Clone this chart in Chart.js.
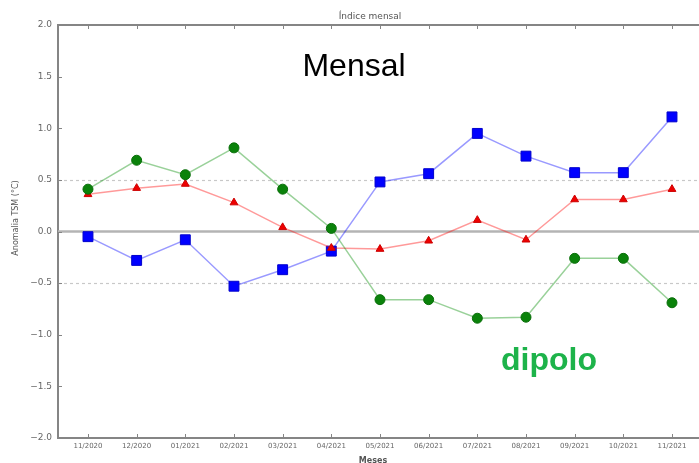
<!DOCTYPE html>
<html>
<head>
<meta charset="utf-8">
<script src="https://cdn.jsdelivr.net/npm/chart.js@4/dist/chart.umd.min.js"></script>
<style>
  html, body { margin: 0; padding: 0; background: #fff; }
  #wrap { width: 699px; height: 463px; }
</style>
</head>
<body>
<div id="wrap"><canvas id="chart"></canvas></div>
<script>
// months on the x axis
let meses = ["11/2020", "12/2020", "01/2021", "02/2021", "03/2021", "04/2021", "05/2021",
             "06/2021", "07/2021", "08/2021", "09/2021", "10/2021", "11/2021"];

// anomaly values (°C)
let serieAzul = [-0.05, -0.28, -0.08, -0.53, -0.37, -0.19, 0.48, 0.56, 0.95, 0.73, 0.57, 0.57, 1.11];
let serieVerde = [0.41, 0.69, 0.55, 0.81, 0.41, 0.03, -0.66, -0.66, -0.84, -0.83, -0.26, -0.26, -0.69];
let serieVermelha = [0.36, 0.42, 0.46, 0.28, 0.04, -0.16, -0.17, -0.09, 0.11, -0.08, 0.31, 0.31, 0.41];

let yTicks = [2.0, 1.5, 1.0, 0.5, 0.0, -0.5, -1.0, -1.5, -2.0];

function pts(arr) {
    return arr.map((v, i) => ({ x: i, y: v }));
}

const spine = "#858585";
const tickFont = "DejaVu Sans";

const extras = {
    id: "extras",
    beforeDatasetsDraw(chart) {
        const ctx = chart.ctx;
        const a = chart.chartArea;
        const y = chart.scales.y;
        ctx.save();
        // dashed reference lines at +-0.5
        ctx.strokeStyle = "#c8c8c8";
        ctx.lineWidth = 1.2;
        ctx.setLineDash([3, 3]);
        [0.5, -0.5].forEach(v => {
            let py = Math.round(y.getPixelForValue(v)) + 0.5;
            ctx.beginPath();
            ctx.moveTo(a.left, py);
            ctx.lineTo(a.right, py);
            ctx.stroke();
        });
        // zero line
        ctx.setLineDash([]);
        ctx.strokeStyle = "#b4b4b4";
        ctx.lineWidth = 2.5;
        let p0 = y.getPixelForValue(0);
        ctx.beginPath();
        ctx.moveTo(a.left, p0);
        ctx.lineTo(a.right, p0);
        ctx.stroke();
        ctx.restore();
    },
    afterDraw(chart) {
        const ctx = chart.ctx;
        const a = chart.chartArea;
        const x = chart.scales.x;
        const y = chart.scales.y;
        ctx.save();
        // top spine
        ctx.strokeStyle = spine;
        ctx.lineWidth = 2;
        ctx.beginPath();
        ctx.moveTo(a.left, a.top);
        ctx.lineTo(a.right, a.top);
        ctx.stroke();
        // inward ticks
        ctx.lineWidth = 1;
        meses.forEach((m, i) => {
            let px = Math.round(x.getPixelForValue(i)) + 0.5;
            ctx.beginPath();
            ctx.moveTo(px, a.bottom);
            ctx.lineTo(px, a.bottom - 4);
            ctx.moveTo(px, a.top);
            ctx.lineTo(px, a.top + 4);
            ctx.stroke();
        });
        yTicks.forEach(v => {
            let py = Math.round(y.getPixelForValue(v)) + 0.5;
            ctx.beginPath();
            ctx.moveTo(a.left, py);
            ctx.lineTo(a.left + 4, py);
            ctx.stroke();
        });
        // small title
        ctx.fillStyle = "#555";
        ctx.font = "9px " + tickFont;
        ctx.textAlign = "center";
        ctx.textBaseline = "alphabetic";
        ctx.fillText("Índice mensal", 370, 19);
        // x axis title
        ctx.font = "bold 8px " + tickFont;
        ctx.fillText("Meses", 373, 463);
        // y axis title
        ctx.font = "8px " + tickFont;
        ctx.translate(16, 218);
        ctx.rotate(-Math.PI / 2);
        ctx.textBaseline = "middle";
        ctx.fillText("Anomalia TSM (°C)", 0, 0);
        ctx.restore();

        // big overlay labels
        ctx.save();
        ctx.textAlign = "center";
        ctx.textBaseline = "middle";
        ctx.fillStyle = "#000";
        ctx.font = "32px 'Liberation Sans'";
        ctx.fillText("Mensal", 354, 67);
        ctx.fillStyle = "#1db34a";
        ctx.font = "bold 32px 'Liberation Sans'";
        ctx.fillText("dipolo", 549, 361);
        ctx.restore();
    }
};

new Chart(document.getElementById("chart"), {
    type: "line",
    data: {
        datasets: [
            {
                label: "verde",
                data: pts(serieVerde),
                borderColor: "rgba(0,140,0,0.4)",
                borderWidth: 1.5,
                pointStyle: "circle",
                pointRadius: 5,
                pointBackgroundColor: "#0a820a",
                pointBorderColor: "#0a6e0a",
                pointBorderWidth: 1
            },
            {
                label: "vermelha",
                data: pts(serieVermelha),
                borderColor: "rgba(255,0,0,0.4)",
                borderWidth: 1.5,
                pointStyle: "triangle",
                pointRadius: 4.5,
                pointBackgroundColor: "#ee0000",
                pointBorderColor: "#cc0000",
                pointBorderWidth: 1
            },
            {
                label: "azul",
                data: pts(serieAzul),
                borderColor: "rgba(0,0,255,0.4)",
                borderWidth: 1.5,
                pointStyle: "rect",
                pointRadius: 7,
                pointBackgroundColor: "#0000ff",
                pointBorderColor: "#0000cc",
                pointBorderWidth: 1
            }
        ]
    },
    options: {
        responsive: true,
        maintainAspectRatio: false,
        animation: false,
        layout: { autoPadding: false, padding: { top: 25, right: 0, left: 0, bottom: 0 } },
        plugins: {
            legend: { display: false },
            tooltip: { enabled: false }
        },
        elements: { line: { tension: 0 } },
        scales: {
            x: {
                type: "linear",
                min: -0.616,
                max: 12.555,
                afterBuildTicks(s) {
                    s.ticks = meses.map((m, i) => ({ value: i }));
                },
                afterFit(s) {
                    s.height = 25;
                    s.paddingLeft = 0;
                    s.paddingRight = 0;
                },
                grid: { display: false, drawTicks: false },
                border: { color: spine, width: 2 },
                ticks: {
                    autoSkip: false,
                    maxRotation: 0,
                    padding: 4,
                    color: "#666",
                    font: { family: tickFont, size: 7 },
                    callback: (v) => meses[v]
                }
            },
            y: {
                min: -2,
                max: 2,
                afterBuildTicks(s) {
                    s.ticks = yTicks.map(v => ({ value: v }));
                },
                afterFit(s) { s.width = 58; },
                grid: { display: false, drawTicks: false },
                border: { color: spine, width: 2 },
                ticks: {
                    padding: 6,
                    color: "#666",
                    font: { family: tickFont, size: 9 },
                    callback: (v) => (v < 0 ? "\u2212" : "") + Math.abs(v).toFixed(1)
                }
            }
        }
    },
    plugins: [extras]
});
</script>
</body>
</html>
